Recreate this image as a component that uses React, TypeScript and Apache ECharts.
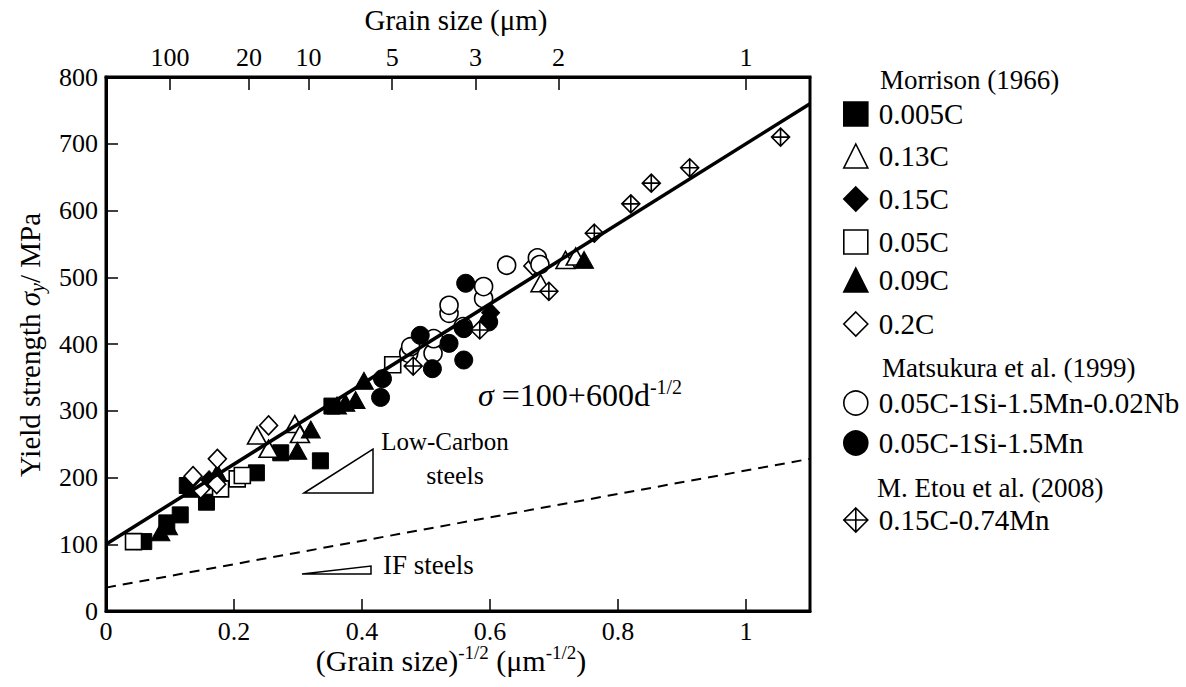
import React, { useEffect, useRef } from 'react';
import * as echarts from 'echarts';

const FONT = '"Liberation Serif", "Times New Roman", Times, serif';

// ---- data: [d^-1/2 (um^-1/2), yield strength (MPa)] ----
const morrison005C: number[][] = [
  [0.059, 104], [0.095, 132], [0.116, 144], [0.127, 188], [0.157, 163],
  [0.235, 207], [0.273, 237], [0.335, 225], [0.353, 307],
];
const morrison013C: number[][] = [
  [0.236, 263], [0.254, 243], [0.295, 280], [0.303, 265], [0.679, 491], [0.718, 526], [0.734, 531],
];
const morrison015C: number[][] = [
  [0.161, 196], [0.601, 447],
];
const morrison005Copen: number[][] = [
  [0.043, 104], [0.179, 183], [0.205, 198], [0.213, 203], [0.448, 369],
];
const morrison009C: number[][] = [
  [0.085, 118], [0.097, 127], [0.135, 183], [0.174, 207], [0.299, 240], [0.32, 272],
  [0.361, 308], [0.374, 312], [0.39, 316], [0.403, 345], [0.747, 526],
];
const morrison02C: number[][] = [
  [0.136, 202], [0.148, 183], [0.173, 190], [0.174, 228], [0.254, 278], [0.667, 517],
];
const matsukuraNb: number[][] = [
  [0.473, 386], [0.476, 396], [0.511, 386], [0.512, 408], [0.536, 446], [0.536, 458],
  [0.558, 426], [0.59, 468], [0.59, 486], [0.626, 518], [0.674, 529], [0.678, 519],
];
const matsukuraMn: number[][] = [
  [0.429, 320], [0.432, 348], [0.491, 413], [0.51, 363], [0.536, 401], [0.559, 376],
  [0.559, 423], [0.562, 491], [0.598, 433],
];
const etou: number[][] = [
  [0.48, 367], [0.584, 421], [0.692, 479], [0.763, 566], [0.82, 610], [0.852, 641],
  [0.912, 664], [1.054, 710],
];
// Hall-Petch lines (end points)
const fitLine: number[][] = [[0, 100], [1.1, 760]];
const ifLine: number[][] = [[0, 35], [1.1, 228]];

// top axis: grain size labels (um)
const grainSizes: number[] = [100, 20, 10, 5, 3, 2, 1];
const topTickValues = grainSizes.map((d) => 1 / Math.sqrt(d));

const yTicks = { min: 0, max: 800, interval: 100 };
const xTicks = { min: 0, max: 1.1, interval: 0.2 };

const DIAMOND_CROSS = 'path://M0,-10L10,0L0,10L-10,0Z M0,-10L0,10 M-10,0L10,0';

type SDef = { name: string; data: number[][]; symbol: string; size: number | number[]; filled: boolean };
const seriesDefs: SDef[] = [
  { name: '0.005C', data: morrison005C, symbol: 'rect', size: 16, filled: true },
  { name: '0.13C', data: morrison013C, symbol: 'triangle', size: [19, 17], filled: false },
  { name: '0.15C', data: morrison015C, symbol: 'diamond', size: [18, 19], filled: true },
  { name: '0.05C', data: morrison005Copen, symbol: 'rect', size: 16, filled: false },
  { name: '0.09C', data: morrison009C, symbol: 'triangle', size: [19, 17], filled: true },
  { name: '0.2C', data: morrison02C, symbol: 'diamond', size: [18, 19], filled: false },
  { name: '0.05C-1Si-1.5Mn-0.02Nb', data: matsukuraNb, symbol: 'circle', size: 18, filled: false },
  { name: '0.05C-1Si-1.5Mn', data: matsukuraMn, symbol: 'circle', size: 18, filled: true },
  { name: '0.15C-0.74Mn', data: etou, symbol: DIAMOND_CROSS, size: 18, filled: false },
];

const legendRows: { name: string; center: number }[] = [
  { name: '0.005C', center: 114 },
  { name: '0.13C', center: 156 },
  { name: '0.15C', center: 199 },
  { name: '0.05C', center: 242 },
  { name: '0.09C', center: 280 },
  { name: '0.2C', center: 324 },
  { name: '0.05C-1Si-1.5Mn-0.02Nb', center: 403 },
  { name: '0.05C-1Si-1.5Mn', center: 443 },
  { name: '0.15C-0.74Mn', center: 520 },
];

const legendHeadings = [
  { text: 'Morrison (1966)', x: 880, y: 80 },
  { text: 'Matsukura et al. (1999)', x: 882, y: 368 },
  { text: 'M. Etou et al. (2008)', x: 877, y: 488 },
];

const baseText = { fontFamily: FONT, fill: '#000' };
const richTitle = (size: number) => ({
  a: { ...baseText, fontSize: size, lineHeight: size + 4, verticalAlign: 'middle' },
  i: { ...baseText, fontSize: size, lineHeight: size + 4, fontStyle: 'italic', verticalAlign: 'middle' },
  s: { ...baseText, fontSize: Math.round(size * 0.62), lineHeight: Math.round(size * 0.62), verticalAlign: 'top' },
  b: { ...baseText, fontSize: Math.round(size * 0.68), lineHeight: Math.round(size * 0.68), fontStyle: 'italic', verticalAlign: 'bottom' },
});

export default function App() {
  const ref = useRef<HTMLDivElement>(null);
  useEffect(() => {
    if (!ref.current) return;
    const chart = echarts.init(ref.current, undefined, { renderer: 'svg' });

    const axisLine = { show: true, lineStyle: { color: '#000', width: 3 } };
    const axisTick = { show: true, inside: true, length: 12, lineStyle: { color: '#000', width: 1.5 } };
    const labelStyle = { color: '#000', fontSize: 26, fontFamily: FONT };

    const scatterSeries = seriesDefs.map((s) => ({
      type: 'scatter',
      name: s.name,
      data: s.data,
      symbol: s.symbol,
      symbolSize: s.size,
      symbolKeepAspect: true,
      itemStyle: s.filled
        ? { color: '#000', borderColor: '#000', borderWidth: 1, opacity: 1 }
        : { color: '#fff', borderColor: '#000', borderWidth: 1.6, opacity: 1 },
      z: 3,
      silent: true,
    }));

    const lineSeries = [
      {
        type: 'line', name: 'fit', data: fitLine, symbol: 'none', silent: true, z: 5,
        lineStyle: { color: '#000', width: 3.5 },
      },
      {
        type: 'line', name: 'IF', data: ifLine, symbol: 'none', silent: true, z: 5,
        lineStyle: { color: '#000', width: 2, type: [10, 7] },
      },
    ];

    const legends = legendRows.map((r) => ({
      data: [r.name],
      left: 843,
      top: r.center - 14.5,
      padding: 0,
      orient: 'vertical',
      itemWidth: 24,
      itemHeight: 24,
      selectedMode: false,
      itemStyle: { borderWidth: 1.6 },
      textStyle: { color: '#000', fontSize: 29, fontFamily: FONT, padding: [0, 0, 0, 6] },
    }));

    const graphic: any[] = [
      {
        type: 'text', x: 456, y: 20,
        style: { ...baseText, text: 'Grain size (μm)', fontSize: 29, align: 'center', verticalAlign: 'middle' },
      },
      {
        type: 'text', x: 451, y: 660,
        style: {
          text: '{a|(Grain size)}{s|-1/2}{a| (μm}{s|-1/2}{a|)}',
          rich: richTitle(30), align: 'center', verticalAlign: 'middle',
        },
      },
      {
        type: 'text', x: 30, y: 345, rotation: Math.PI / 2,
        style: {
          text: '{a|Yield strength }{i|σ}{b|y}{a|/ MPa}',
          rich: richTitle(29), align: 'center', verticalAlign: 'middle',
        },
      },
      {
        type: 'text', x: 478, y: 395,
        style: {
          text: '{i|σ}{a| =100+600d}{s|-1/2}',
          rich: richTitle(32), align: 'left', verticalAlign: 'middle',
        },
      },
      {
        type: 'text', x: 445, y: 441,
        style: { ...baseText, text: 'Low-Carbon', fontSize: 25, align: 'center', verticalAlign: 'middle' },
      },
      {
        type: 'text', x: 455, y: 475,
        style: { ...baseText, text: 'steels', fontSize: 26, align: 'center', verticalAlign: 'middle' },
      },
      {
        type: 'text', x: 383, y: 565,
        style: { ...baseText, text: 'IF steels', fontSize: 27, align: 'left', verticalAlign: 'middle' },
      },
      {
        type: 'polygon',
        shape: { points: [[304, 493], [373, 449], [373, 493]] },
        style: { fill: 'none', stroke: '#000', lineWidth: 1.5 },
      },
      {
        type: 'polygon',
        shape: { points: [[302, 574], [371, 566], [371, 574]] },
        style: { fill: 'none', stroke: '#000', lineWidth: 1.5 },
      },
      ...legendHeadings.map((h) => ({
        type: 'text', x: h.x, y: h.y,
        style: { ...baseText, text: h.text, fontSize: 27, align: 'left', verticalAlign: 'middle' },
      })),
    ];

    chart.setOption({
      animation: false,
      backgroundColor: '#fff',
      textStyle: { fontFamily: FONT },
      grid: {
        left: 106, top: 77, right: 376, bottom: 76,
        show: true, borderColor: '#000', borderWidth: 3, backgroundColor: 'transparent',
      },
      xAxis: [
        {
          type: 'value', position: 'bottom', ...xTicks,
          axisLine, axisTick,
          splitLine: { show: false },
          axisLabel: {
            ...labelStyle, margin: 7,
            formatter: (v: number) => (v > 1.05 ? '' : String(Math.round(v * 10) / 10)),
          },
        },
        {
          type: 'value', position: 'top', min: xTicks.min, max: xTicks.max,
          axisLine,
          axisTick: { ...axisTick, length: 13, customValues: topTickValues },
          splitLine: { show: false },
          axisLabel: {
            ...labelStyle, margin: 7, customValues: topTickValues,
            formatter: (v: number) => String(Math.round(1 / (v * v))),
          },
        },
      ],
      yAxis: {
        type: 'value', ...yTicks,
        axisLine, axisTick,
        splitLine: { show: false },
        axisLabel: { ...labelStyle, margin: 8 },
      },
      legend: legends,
      series: [...scatterSeries, ...lineSeries],
      graphic,
    });

    return () => chart.dispose();
  }, []);

  return (
    <div
      ref={ref}
      style={{ position: 'fixed', left: 0, top: 0, width: 1186, height: 687, background: '#fff' }}
    />
  );
}
